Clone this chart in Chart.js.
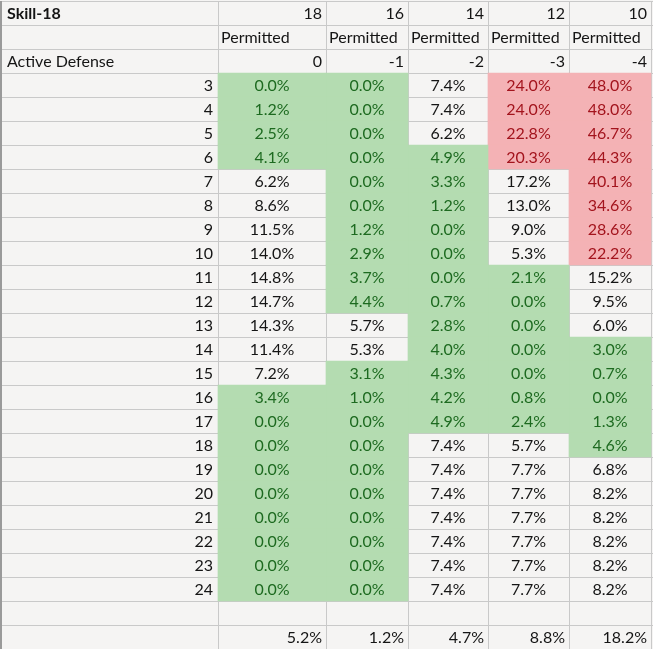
<!DOCTYPE html>
<html>
<head>
<meta charset="utf-8">
<script src="https://cdn.jsdelivr.net/npm/chart.js@4.4.1/dist/chart.umd.min.js"></script>
<style>
  html, body { margin: 0; padding: 0; background: #f5f4f3; }
  #wrap { width: 653px; height: 649px; position: relative; }
</style>
</head>
<body>
<div id="wrap"><canvas id="sheet"></canvas></div>
<script>
// table values
const skillTitle = 'Skill-18';
const skillLevels = [18, 16, 14, 12, 10];
const permittedLabel = 'Permitted';
const defenseTitle = 'Active Defense';
const activeDefense = [0, -1, -2, -3, -4];
const rolls = [3, 4, 5, 6, 7, 8, 9, 10, 11, 12, 13, 14, 15, 16, 17, 18, 19, 20, 21, 22, 23, 24];

const pct18 = [0.0, 1.2, 2.5, 4.1, 6.2, 8.6, 11.5, 14.0, 14.8, 14.7, 14.3, 11.4, 7.2, 3.4, 0.0, 0.0, 0.0, 0.0, 0.0, 0.0, 0.0, 0.0];
const pct16 = [0.0, 0.0, 0.0, 0.0, 0.0, 0.0, 1.2, 2.9, 3.7, 4.4, 5.7, 5.3, 3.1, 1.0, 0.0, 0.0, 0.0, 0.0, 0.0, 0.0, 0.0, 0.0];
const pct14 = [7.4, 7.4, 6.2, 4.9, 3.3, 1.2, 0.0, 0.0, 0.0, 0.7, 2.8, 4.0, 4.3, 4.2, 4.9, 7.4, 7.4, 7.4, 7.4, 7.4, 7.4, 7.4];
const pct12 = [24.0, 24.0, 22.8, 20.3, 17.2, 13.0, 9.0, 5.3, 2.1, 0.0, 0.0, 0.0, 0.0, 0.8, 2.4, 5.7, 7.7, 7.7, 7.7, 7.7, 7.7, 7.7];
const pct10 = [48.0, 48.0, 46.7, 44.3, 40.1, 34.6, 28.6, 22.2, 15.2, 9.5, 6.0, 3.0, 0.7, 0.0, 1.3, 4.6, 6.8, 8.2, 8.2, 8.2, 8.2, 8.2];
const totals = [5.2, 1.2, 4.7, 8.8, 18.2];

const series = [pct18, pct16, pct14, pct12, pct10];

// layout: column edges in sheet pixels, rows before the roll rows
const colEdges = [1, 218, 326, 408, 488, 569, 651];
const headRows = 3;
const FONT = 'Lato, "Noto Sans", sans-serif';
const SIZE = 16;

const rowLabels = [skillTitle, permittedLabel, defenseTitle]
  .concat(rolls.map(String))
  .concat(['', 'total']);
const totalRow = rowLabels.length - 1;

function fillFor(v) {
  if (v < 5) return '#b4dcb1';
  if (v > 20) return '#f4b2b5';
  return 'rgba(0,0,0,0)';
}

function inkFor(v) {
  if (v < 5) return '#1d6a20';
  if (v > 20) return '#a3141d';
  return '#151515';
}

const fmt = (v) => v.toFixed(1) + '%';

const gridPlugin = {
  id: 'sheetGrid',
  beforeDatasetsDraw(chart) {
    const { ctx, scales: { x, y } } = chart;
    const half = (y.getPixelForValue(1) - y.getPixelForValue(0)) / 2;
    const top = y.getPixelForValue(0) - half;
    const bottom = y.getPixelForValue(totalRow) + half;
    ctx.save();
    ctx.strokeStyle = '#c9c9c9';
    ctx.lineWidth = 1;
    ctx.beginPath();
    colEdges.forEach((e) => {
      const px = Math.round(x.getPixelForValue(e)) + 0.5;
      ctx.moveTo(px, top);
      ctx.lineTo(px, bottom);
    });
    for (let r = 0; r < rowLabels.length; r++) {
      const py = Math.round(y.getPixelForValue(r) - half) + 0.5;
      ctx.moveTo(x.getPixelForValue(colEdges[0]), py);
      ctx.lineTo(chart.width, py);
    }
    ctx.stroke();
    // sheet frame on the left
    ctx.strokeStyle = '#9a9a9a';
    ctx.lineWidth = 2;
    ctx.beginPath();
    ctx.moveTo(1, top);
    ctx.lineTo(1, bottom);
    ctx.stroke();
    ctx.restore();
  },
};

const textPlugin = {
  id: 'sheetText',
  afterDatasetsDraw(chart) {
    const { ctx, scales: { x, y } } = chart;
    const left = (c) => x.getPixelForValue(colEdges[c]);
    const ty = (r) => y.getPixelForValue(r) + 1;
    ctx.save();
    ctx.textBaseline = 'middle';
    ctx.fillStyle = '#151515';

    ctx.font = 'bold ' + SIZE + 'px ' + FONT;
    ctx.textAlign = 'left';
    ctx.fillText(skillTitle, left(0) + 6, ty(0));

    ctx.font = SIZE + 'px ' + FONT;
    ctx.fillText(defenseTitle, left(0) + 6, ty(2));
    skillLevels.forEach((s, c) => {
      ctx.textAlign = 'left';
      ctx.fillText(permittedLabel, left(c + 1) + 3, ty(1));
      ctx.textAlign = 'right';
      ctx.fillText(String(s), left(c + 2) - 4, ty(0));
      ctx.fillText(String(activeDefense[c]), left(c + 2) - 4, ty(2));
      ctx.fillText(fmt(totals[c]), left(c + 2) - 4, ty(totalRow));
    });

    ctx.textAlign = 'right';
    rolls.forEach((r, i) => {
      ctx.fillText(String(r), left(1) - 5, ty(headRows + i));
    });

    ctx.textAlign = 'center';
    chart.data.datasets.forEach((ds, c) => {
      chart.getDatasetMeta(c).data.forEach((bar, i) => {
        if (!ds.data[i]) return;
        const v = series[c][i - headRows];
        ctx.fillStyle = inkFor(v);
        ctx.fillText(fmt(v), (bar.base + bar.x) / 2, ty(i));
      });
    });
    ctx.restore();
  },
};

new Chart(document.getElementById('sheet'), {
  type: 'bar',
  data: {
    labels: rowLabels,
    datasets: series.map((vals, c) => ({
      label: String(skillLevels[c]),
      data: rowLabels.map((_, r) =>
        r >= headRows && r < headRows + rolls.length ? [colEdges[c + 1], colEdges[c + 2]] : null,
      ),
      backgroundColor: (ctx) => fillFor(vals[ctx.dataIndex - headRows]),
      borderWidth: 0,
      barPercentage: 1,
      categoryPercentage: 1,
      grouped: false,
    })),
  },
  options: {
    indexAxis: 'y',
    responsive: true,
    maintainAspectRatio: false,
    animation: false,
    devicePixelRatio: 1,
    layout: { padding: { top: 1, left: 0, right: 0, bottom: 0 } },
    plugins: {
      legend: { display: false },
      tooltip: { enabled: false },
    },
    scales: {
      x: { type: 'linear', min: 0, max: 653, display: false },
      y: { type: 'category', display: false, offset: true },
    },
  },
  plugins: [gridPlugin, textPlugin],
});
</script>
</body>
</html>
